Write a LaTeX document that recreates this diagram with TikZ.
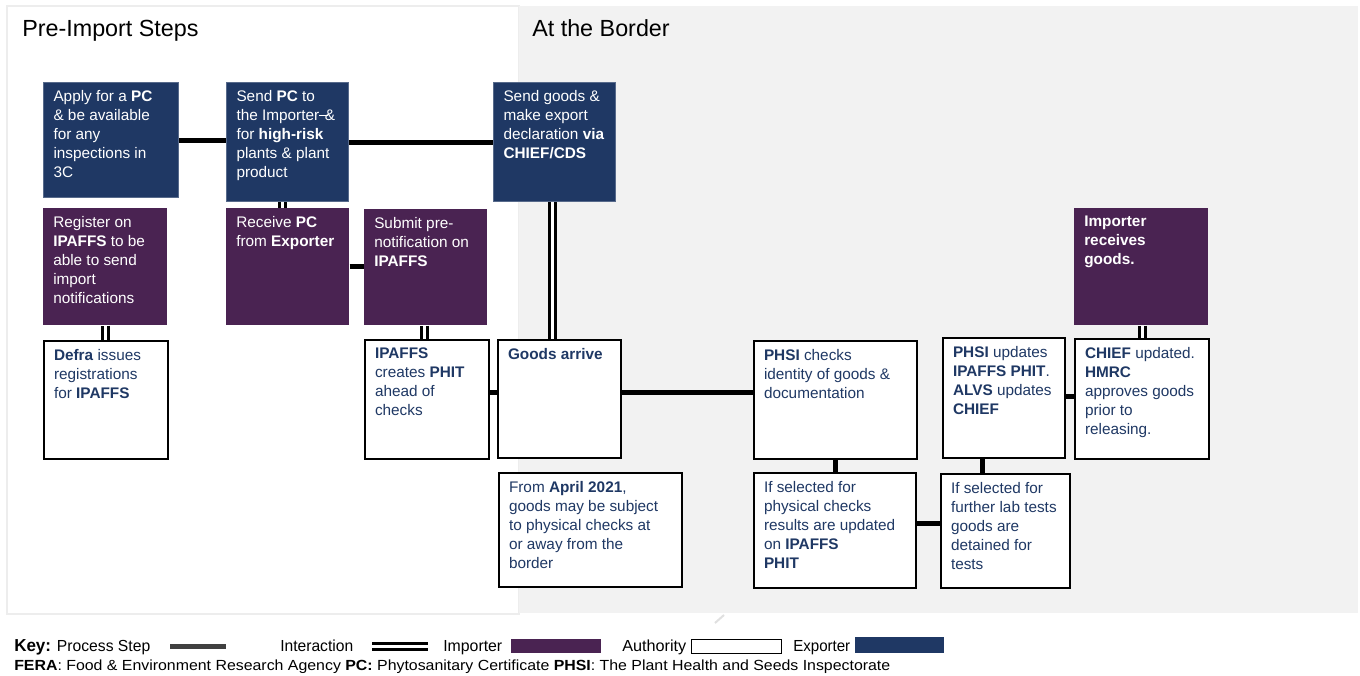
\documentclass[tikz,border=0pt]{standalone}
\usepackage{fontspec}
\setmainfont{Liberation Sans}
\usepackage{graphicx}
\definecolor{navy}{HTML}{1F3864}
\definecolor{plum}{HTML}{4A2352}
\definecolor{panel}{HTML}{F2F2F2}
\definecolor{keygrey}{HTML}{404040}
\newcommand\bt[3]{\begin{minipage}[c][\dimexpr #2pt*3/4\relax][t]{\dimexpr #1pt*3/4\relax}\raggedright\leftskip=7.5pt\fontsize{11.5}{14.25}\selectfont\vspace*{6pt}#3\end{minipage}}
\newcommand\strikeamp{\rlap{\raisebox{0.3em}{\rule{0.6em}{0.07em}}}\kern0.37em\&}
\tikzset{
  exp/.style={anchor=north west, inner sep=0pt, fill=navy, draw=navy!75!white, line width=0.75pt, text=white},
  imp/.style={anchor=north west, inner sep=0pt, fill=plum, text=white},
  auth/.style={anchor=north west, inner sep=0pt, fill=white, draw=black, line width=1.5pt, text=navy},
  proc/.style={line width=3.75pt, black},
  inter/.style={line width=2.25pt, double=white, double distance=2.25pt, black},
  ttl/.style={anchor=base west, font=\fontsize{17.5}{20}\selectfont, inner sep=0pt},
  keyt/.style={anchor=base west, inner sep=0pt, font=\fontsize{12}{14}\selectfont},
}
\begin{document}
\begin{tikzpicture}[x=0.75pt,y=-0.75pt]
\useasboundingbox (0,0) rectangle (1360,675);
\fill[white] (0,0) rectangle (1360,675);
\draw[draw=black!7, fill=white, line width=1.5pt] (7,6) rectangle (519,614);
\fill[panel] (519,6) rectangle (1358,613);
\draw[black!12, line width=1.5pt] (724,615) -- (715,623);

\node[ttl] (t1) at (22,36) {Pre-Import Steps};
\node[ttl] (t2) at (532,36) {At the Border};

% exporter
\node[exp] (apply) at (43,82) {\bt{135}{115}{Apply for a \textbf{PC}\\ \& be available\\ for any\\ inspections in\\ 3C}};
\node[exp] (sendpc) at (226,82) {\bt{122}{119}{Send \textbf{PC} to\\ the Importer\strikeamp\\ for \textbf{high-risk}\\ plants \& plant\\ product}};
\node[exp] (sendgoods) at (493,82) {\bt{122}{119}{Send goods \&\\ make export\\ declaration \textbf{via}\\ \textbf{CHIEF/CDS}}};
% importer
\node[imp] (register) at (43,208) {\bt{124}{117}{Register on\\ \textbf{IPAFFS} to be\\ able to send\\ import\\ notifications}};
\node[imp] (receive) at (226,208) {\bt{123}{117}{Receive \textbf{PC}\\ from \textbf{Exporter}}};
\node[imp] (submit) at (364,209) {\bt{123}{116}{Submit pre-\\ notification on\\ \textbf{IPAFFS}}};
\node[imp] (imprecv) at (1074,208) {\bt{134}{117}{\textbf{Importer}\\ \textbf{receives}\\ \textbf{goods.}}};
% authority
\node[auth] (defra) at (43,340) {\bt{124}{118}{\textbf{Defra} issues\\ registrations\\ for \textbf{IPAFFS}}};
\node[auth] (ipaffs) at (364,339) {\bt{124}{119}{\textbf{IPAFFS}\\ creates \textbf{PHIT}\\ ahead of\\ checks}};
\node[auth] (arrive) at (497,339) {\bt{123}{118}{\textbf{Goods arrive}}};
\node[auth] (april) at (498,472) {\bt{183}{114}{From \textbf{April 2021},\\ goods may be subject\\ to physical checks at\\ or away from the\\ border}};
\node[auth] (phsi) at (753,340) {\bt{163}{118}{\textbf{PHSI} checks\\ identity of goods \&\\ documentation}};
\node[auth] (physical) at (753,472) {\bt{162}{115}{If selected for\\ physical checks\\ results are updated\\ on \textbf{IPAFFS}\\ \textbf{PHIT}}};
\node[auth] (phsiupd) at (942,337) {\bt{122}{120}{\textbf{PHSI} updates\\ \textbf{IPAFFS PHIT}.\\ \textbf{ALVS} updates\\ \textbf{CHIEF}}};
\node[auth] (lab) at (940,473) {\bt{129}{114}{If selected for\\ further lab tests\\ goods are\\ detained for\\ tests}};
\node[auth] (chief) at (1074,338) {\bt{134}{120}{\textbf{CHIEF} updated.\\ \textbf{HMRC}\\ approves goods\\ prior to\\ releasing.}};

% process steps
\draw[proc] (apply.east) -- (apply.east -| sendpc.west);
\draw[proc] (sendpc.east) -- (sendpc.east -| sendgoods.west);
\draw[proc] (receive.east) -- (receive.east -| submit.west);
\draw[proc] ([yshift=5.25pt]ipaffs.east) -- ([yshift=5.25pt]ipaffs.east -| arrive.west);
\draw[proc] ([yshift=5.25pt]arrive.east) -- ([yshift=5.25pt]arrive.east -| phsi.west);
\draw[proc] (phsi.south) -- (phsi.south |- physical.north);
\draw[proc] ([yshift=5pt]physical.east) -- ([yshift=5pt]physical.east -| lab.west);
\draw[proc] ([xshift=-16.5pt]phsiupd.south) -- ([xshift=-16.5pt]phsiupd.south |- lab.north);
\draw[proc] ([yshift=1.5pt]phsiupd.east) -- ([yshift=1.5pt]phsiupd.east -| chief.west);

% interactions
\draw[inter] ([xshift=-3.75pt]sendpc.south) -- ([xshift=-3.75pt]sendpc.south |- receive.north);
\draw[inter] (register.south) -- (register.south |- defra.north);
\draw[inter] ([xshift=-1pt]submit.south) -- ([xshift=-1pt]submit.south |- ipaffs.north);
\draw[inter] ([xshift=-1.5pt]sendgoods.south) -- ([xshift=-1.5pt]sendgoods.south |- arrive.north);
\draw[inter] ([xshift=0.75pt]imprecv.south) -- ([xshift=0.75pt]imprecv.south |- chief.north);

% key
\node[keyt] (k1) at (14,651) {\resizebox{102pt}{\height}{{\fontsize{13}{15}\selectfont\textbf{Key:}} Process Step}};
\coordinate (kp1) at (170,646); \coordinate (kp2) at (226,646);
\draw[line width=3.75pt, keygrey] (kp1) -- (kp2);
\node[keyt] (k2) at (280,651) {\resizebox{54.75pt}{\height}{Interaction}};
\coordinate (ki1) at (372,646); \coordinate (ki2) at (428,646);
\draw[inter] (ki1) -- (ki2);
\node[keyt] (k3) at (443,651) {\resizebox{44.25pt}{\height}{Importer}};
\fill[plum] (511,639) rectangle (601,653);
\node[keyt] (k4) at (622,651) {\resizebox{48pt}{\height}{Authority}};
\draw[black, line width=0.75pt, fill=white] (691,639) rectangle (781,653);
\node[keyt] (k5) at (793,651) {\resizebox{42.75pt}{\height}{Exporter}};
\fill[navy] (855,637) rectangle (944,653);
\node[keyt, font=\fontsize{11}{13}\selectfont] (k6) at (14,670) {\resizebox{657pt}{\height}{\textbf{FERA}: Food \& Environment Research Agency \textbf{PC:} Phytosanitary Certificate \textbf{PHSI}: The Plant Health and Seeds Inspectorate}};
\end{tikzpicture}
\end{document}
